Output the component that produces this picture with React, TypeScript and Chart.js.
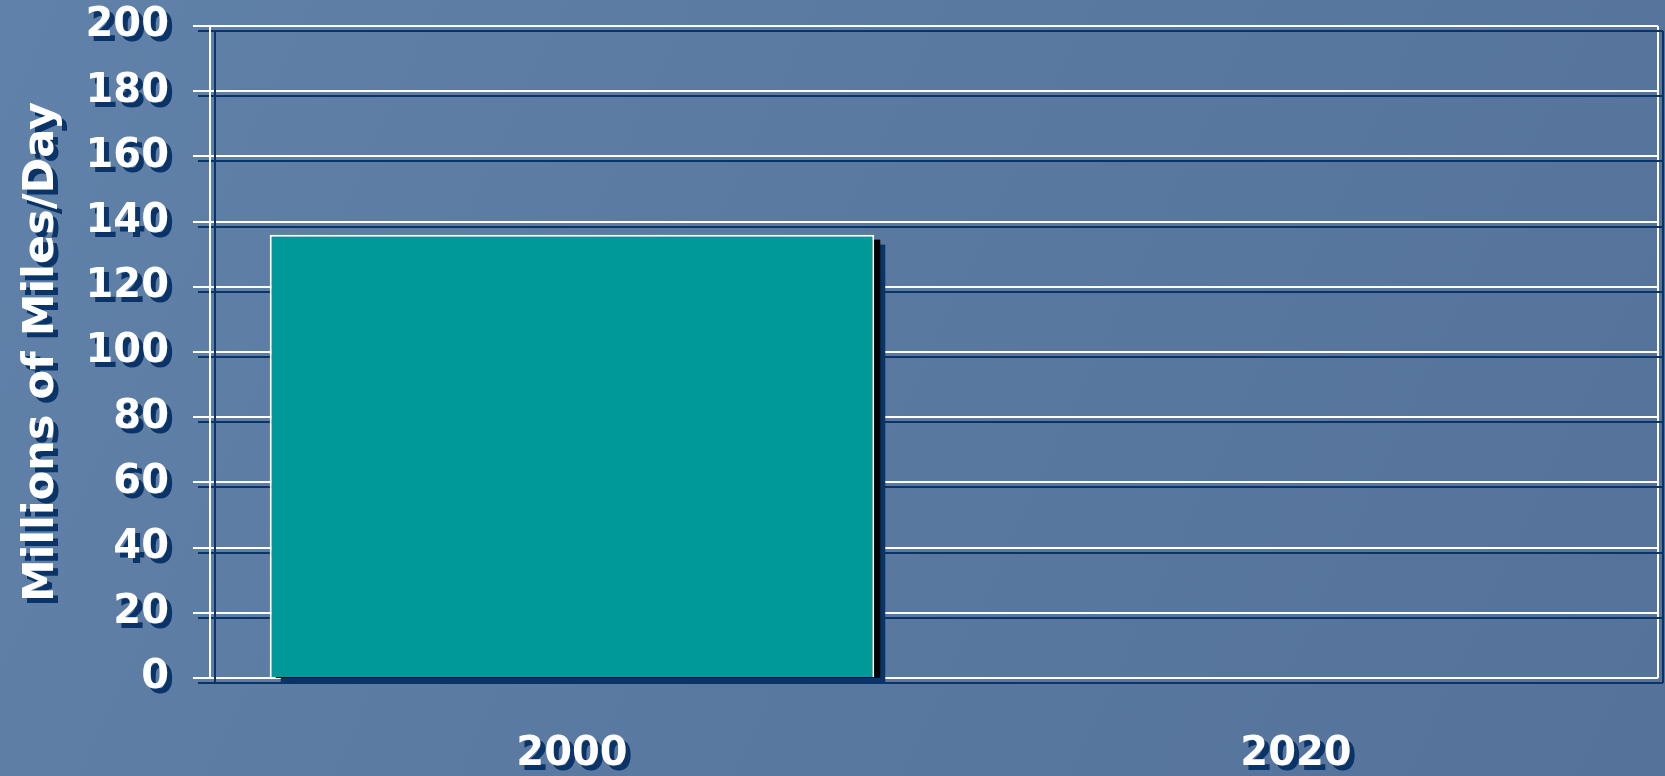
import React, { useEffect, useRef } from 'react';
import { Chart, registerables } from 'chart.js';

Chart.register(...registerables);

// ---- data ----
const categories: string[] = ['2000', '2020'];
const milesPerDay: (number | null)[] = [136, null];
const yMin = 0;
const yMax = 200;
const yStep = 20;
const yTitle = 'Millions of Miles/Day';

// ---- styles ----
const SHADOW = '#0a3468';
const FONT = '"DejaVu Sans", "Liberation Sans", sans-serif';
const BAR = '#009999';

const slidePlugin = {
  id: 'slideLook',
  beforeDraw(chart: any) {
    const { ctx, width, height } = chart;
    ctx.save();
    const g = ctx.createLinearGradient(0, 0, width, height);
    g.addColorStop(0, '#6081a9');
    g.addColorStop(0.5, '#5a79a0');
    g.addColorStop(1, '#55739a');
    ctx.fillStyle = g;
    ctx.fillRect(0, 0, width, height);
    ctx.restore();
    ctx.save();
    ctx.shadowColor = SHADOW;
    ctx.shadowOffsetX = 5;
    ctx.shadowOffsetY = 5;
    ctx.shadowBlur = 0;
  },
  beforeDatasetsDraw(chart: any) {
    const { ctx } = chart;
    const meta = chart.getDatasetMeta(0);
    const values = chart.data.datasets[0].data;
    meta.data.forEach((el: any, i: number) => {
      if (values[i] == null) return;
      const p = el.getProps(['x', 'y', 'base', 'width'], true);
      if (isNaN(p.y) || isNaN(p.base)) return;
      ctx.fillStyle = '#000000';
      ctx.fillRect(p.x - p.width / 2 + 6, p.y + 5, p.width, p.base - p.y - 4);
    });
    ctx.shadowColor = 'rgba(0,0,0,0)';
  },
  afterDraw(chart: any) {
    chart.ctx.restore();
  },
};

export default function App() {
  const ref = useRef<HTMLCanvasElement | null>(null);

  useEffect(() => {
    document.body.style.margin = '0';
    const canvas = ref.current;
    if (!canvas) return;
    const chart = new Chart(canvas, {
      type: 'bar',
      data: {
        labels: categories,
        datasets: [
          {
            data: milesPerDay,
            backgroundColor: BAR,
            borderColor: '#ffffff',
            borderWidth: 2,
            categoryPercentage: 1,
            barPercentage: 0.835,
          },
        ],
      },
      options: {
        responsive: false,
        animation: false,
        devicePixelRatio: 1,
        layout: { padding: { left: 0, top: 26, right: 7, bottom: 0 } },
        plugins: {
          legend: { display: false },
          tooltip: { enabled: false },
        },
        scales: {
          x: {
            grid: {
              display: true,
              drawOnChartArea: true,
              drawTicks: false,
              lineWidth: 2,
              color: (c: any) => (c.type === 'scale' ? '#ffffff' : 'rgba(0,0,0,0)'),
            },
            border: { display: false },
            ticks: {
              color: '#ffffff',
              padding: 53,
              font: { family: FONT, size: 40, weight: 'bold' },
            },
            afterFit: (s: any) => {
              s.height = 98;
              s.paddingLeft = 0;
              s.paddingRight = 0;
            },
          },
          y: {
            min: yMin,
            max: yMax,
            ticks: {
              stepSize: yStep,
              color: '#ffffff',
              padding: 24,
              font: { family: FONT, size: 40, weight: 'bold' },
            },
            grid: {
              color: '#ffffff',
              lineWidth: 2,
              tickLength: 17,
            },
            border: { display: true, color: '#ffffff', width: 2 },
            title: {
              display: true,
              text: yTitle,
              color: '#ffffff',
              padding: { top: 16, bottom: 0 },
              font: { family: FONT, size: 43, weight: 'bold' },
            },
            afterFit: (s: any) => {
              s.width = 210;
              s.paddingTop = 0;
              s.paddingBottom = 0;
            },
          },
        },
      },
      plugins: [slidePlugin],
    } as any);
    return () => chart.destroy();
  }, []);

  return (
    <div style={{ position: 'fixed', left: 0, top: 0, width: 1665, height: 776 }}>
      <canvas ref={ref} width={1665} height={776} style={{ display: 'block' }} />
    </div>
  );
}
